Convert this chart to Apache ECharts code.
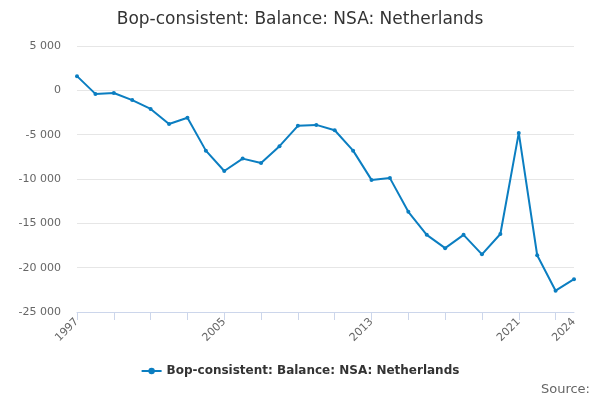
<!DOCTYPE html><html><head><meta charset="utf-8"><script src="https://cdn.jsdelivr.net/npm/echarts@6/dist/echarts.min.js"></script></head><body style="margin:0"><div id="c" style="width:600px;height:400px"></div><script>
const years=[];for(let y=1997;y<=2024;y++)years.push(String(y));
const values=[1600,-400,-300,-1100,-2100,-3800,-3100,-6800,-9100,-7700,-8200,-6300,-4000,-3900,-4500,-6800,-10100,-9900,-13700,-16300,-17800,-16300,-18500,-16200,-4800,-18600,-22600,-21300];
const name='Bop-consistent: Balance: NSA: Netherlands';
const ch=echarts.init(document.getElementById('c'));
ch.setOption({
title:{text:name,left:'center',top:6,textStyle:{fontFamily:'DejaVu Sans',fontWeight:'normal',fontSize:17,color:'#333'}},
grid:{left:77,right:26,top:46,bottom:88},
legend:{bottom:18,left:'center',itemWidth:20,itemHeight:8,textStyle:{fontFamily:'DejaVu Sans',fontWeight:'bold',fontSize:12,color:'#333'}},
graphic:[{type:'text',right:10,bottom:4,style:{text:'Source:',font:'13px DejaVu Sans',fill:'#666'}}],
xAxis:{type:'category',data:years,boundaryGap:false,axisLine:{onZero:false,lineStyle:{color:'#ccd6eb'}},axisTick:{interval:1,lineStyle:{color:'#ccd6eb'},length:8},
axisLabel:{rotate:45,color:'#666',fontFamily:'DejaVu Sans',fontSize:11,interval:(i)=>i%8===0||i===years.length-1}},
yAxis:{type:'value',min:-25000,max:5000,interval:5000,splitLine:{lineStyle:{color:'#e6e6e6'}},
axisLabel:{color:'#666',fontFamily:'DejaVu Sans',fontSize:11,margin:16,formatter:v=>String(v).replace(/\B(?=(\d{3})+(?!\d))/g,' ')}},
series:[{type:'line',name:name,data:values,color:'#0b7ec1',symbol:'circle',symbolSize:4,lineStyle:{width:2}}]
});
</script></body></html>
